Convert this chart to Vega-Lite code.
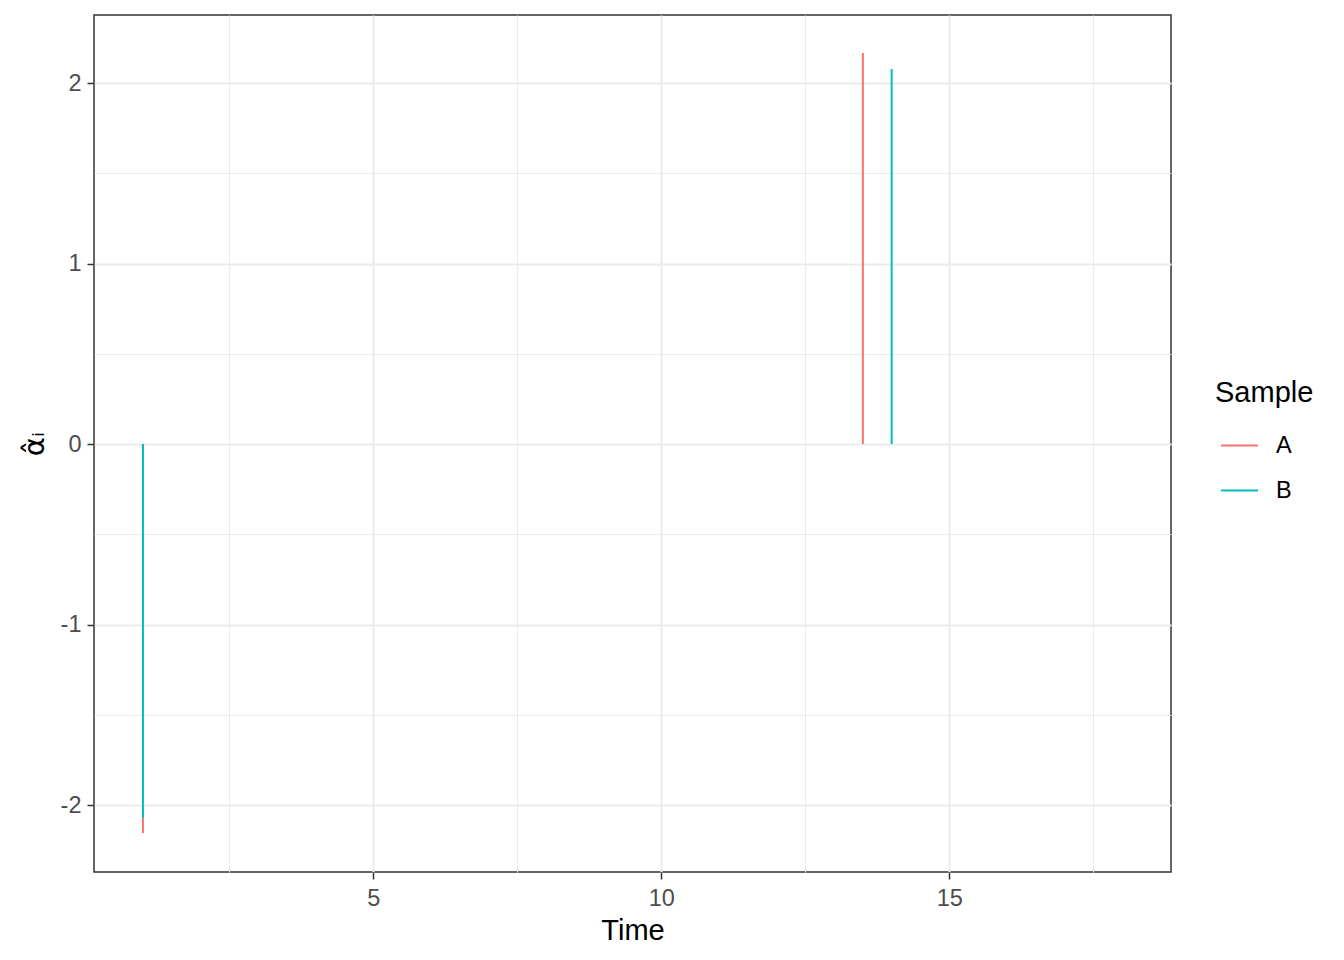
{
  "$schema": "https://vega.github.io/schema/vega-lite/v6.json",
  "width": 1077,
  "height": 857,
  "autosize": {"type": "none"},
  "padding": {"left": 94, "top": 15, "right": 173, "bottom": 88},
  "background": "white",
  "config": {
    "view": {"stroke": "#333333", "strokeWidth": 1.5},
    "font": "Liberation Sans"
  },
  "data": {
    "values": [
      {"time": 1, "sample": "A", "value": -2.155},
      {"time": 1, "sample": "B", "value": -2.07},
      {"time": 13.5, "sample": "A", "value": 2.166},
      {"time": 14, "sample": "B", "value": 2.078}
    ]
  },
  "mark": {"type": "rule", "strokeWidth": 2},
  "encoding": {
    "x": {
      "field": "time",
      "type": "quantitative",
      "scale": {"domain": [0.15, 18.85], "nice": false, "zero": false},
      "axis": {
        "title": "Time",
        "values": [2.5, 5, 7.5, 10, 12.5, 15, 17.5],
        "labelExpr": "datum.value % 5 === 0 ? toString(datum.value) : ''",
        "domain": false,
        "grid": true,
        "gridColor": "#EBEBEB",
        "gridWidth": {"condition": {"test": "datum.value % 5 === 0", "value": 2}, "value": 1},
        "tickOpacity": {"condition": {"test": "datum.value % 5 === 0", "value": 1}, "value": 0},
        "tickColor": "#333333",
        "tickSize": 7,
        "tickWidth": 1.5,
        "labelColor": "#4D4D4D",
        "labelFontSize": 23.5,
        "labelFont": "Liberation Sans",
        "labelPadding": 7,
        "labelFlush": false,
        "titleFont": "Liberation Sans",
        "titleFontSize": 29,
        "titleFontWeight": "normal",
        "titleColor": "#000000",
        "titlePadding": 7
      }
    },
    "y": {
      "field": "value",
      "type": "quantitative",
      "scale": {"domain": [-2.371, 2.377], "nice": false, "zero": false},
      "axis": {
        "title": "α̂ᵢ",
        "values": [-2, -1.5, -1, -0.5, 0, 0.5, 1, 1.5, 2],
        "labelExpr": "datum.value % 1 === 0 ? toString(datum.value) : ''",
        "domain": false,
        "grid": true,
        "gridColor": "#EBEBEB",
        "gridWidth": {"condition": {"test": "datum.value % 1 === 0", "value": 2}, "value": 1},
        "tickOpacity": {"condition": {"test": "datum.value % 1 === 0", "value": 1}, "value": 0},
        "tickColor": "#333333",
        "tickSize": 7,
        "tickWidth": 1.5,
        "labelColor": "#4D4D4D",
        "labelFontSize": 23.5,
        "labelFont": "Liberation Sans",
        "labelPadding": 6,
        "labelFlush": false,
        "titleFont": "DejaVu Sans",
        "titleFontSize": 29,
        "titleFontWeight": "normal",
        "titleColor": "#000000",
        "titlePadding": 11
      }
    },
    "y2": {"datum": 0},
    "color": {
      "field": "sample",
      "type": "nominal",
      "scale": {"domain": ["A", "B"], "range": ["#F8766D", "#00BFC4"]},
      "legend": {
        "title": "Sample",
        "orient": "none",
        "legendX": 1121,
        "legendY": 364,
        "titleFont": "Liberation Sans",
        "titleFontSize": 29,
        "titleFontWeight": "normal",
        "titleColor": "#000000",
        "titlePadding": 18,
        "symbolType": "stroke",
        "symbolSize": 1369,
        "symbolStrokeWidth": 2,
        "symbolOffset": 5,
        "labelFont": "Liberation Sans",
        "labelFontSize": 23.5,
        "labelColor": "#000000",
        "labelOffset": 17,
        "rowPadding": 14
      }
    }
  }
}
